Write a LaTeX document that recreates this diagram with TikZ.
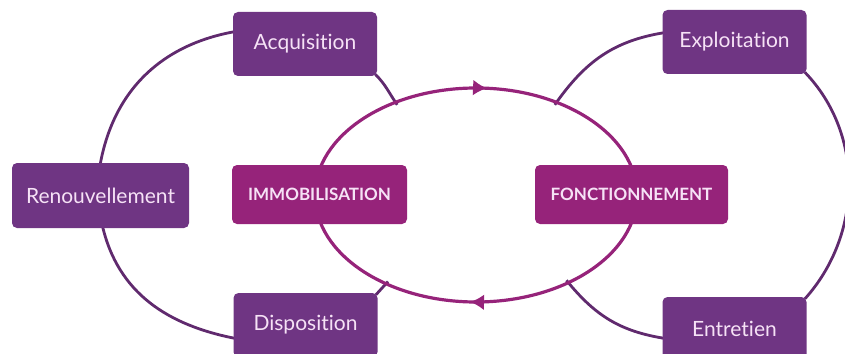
\documentclass[tikz,border=0pt]{standalone}
\usepackage{fontspec}
\setmainfont[Ligatures=NoCommon]{Lato}
\usetikzlibrary{arrows.meta,decorations.markings,backgrounds}
\definecolor{cyclepurple}{RGB}{111,53,131}
\definecolor{cyclemagenta}{RGB}{150,35,122}
\definecolor{cycleline}{RGB}{96,42,110}
\definecolor{cycletext}{RGB}{246,226,246}

\begin{document}
\begin{tikzpicture}[
    x=0.5pt, y=-0.5pt,
    phase/.style={rectangle, fill=cyclepurple, text=cycletext, rounded corners=2.5pt, minimum width=72pt, minimum height=32pt, font=\fontsize{10.5}{12}\selectfont},
    core/.style={rectangle, fill=cyclemagenta, text=cycletext, rounded corners=2.5pt, minimum height=29.5pt, font=\bfseries\fontsize{8.5}{10}\selectfont},
    ring/.style={draw=cycleline, line width=1.4pt, shorten <=-1.5pt, shorten >=-1.5pt},
    flow/.style={draw=cyclemagenta, line width=1.6pt, postaction={decorate},
        decoration={markings,
            mark=at position 0.257 with {\arrow{Latex[length=7pt,width=8pt]}},
            mark=at position 0.763 with {\arrow{Latex[length=7pt,width=8pt]}}}}
]
\useasboundingbox (0,0) rectangle (845,353);

% Central cycle
\coordinate (centre) at (476,195);
\path[flow] (centre) ellipse [x radius=161, y radius=107];
\path (centre) ++(240:161 and 107) coordinate (eNW);
\path (centre) ++(300:161 and 107) coordinate (eNE);
\path (centre) ++(124:161 and 107) coordinate (eSW);
\path (centre) ++(55:161 and 107) coordinate (eSE);

% Row 1: top phases
\node[phase] (acq) at (305,44) {Acquisition};
\node[phase] (expl) at (734.5,42) {Exploitation};

% Row 2: middle
\node[phase, minimum width=88.5pt, minimum height=32.5pt] (renouv) at (100.5,195.5) {Renouvellement};
\node[core, minimum width=87.5pt] (immo) at (319.5,194.5) {IMMOBILISATION};
\node[core, minimum width=96.5pt] (fonct) at (631.5,194.5) {FONCTIONNEMENT};

% Row 3: bottom phases
\node[phase] (disp) at (305.5,325) {Disposition};
\node[phase] (entr) at (734.5,329) {Entretien};

% Connections
\begin{scope}[on background layer]
% left loop
\draw[ring] ([yshift=6pt]acq.west) to[out=190, in=80] (renouv.north);
\draw[ring] ([xshift=1.25pt]renouv.south) to[out=283, in=169] ([yshift=-6.5pt]disp.west);
\draw[ring] (acq.south east) to[out=-45, in=125] (eNW);
\draw[ring] (disp.north east) -- (eSW);
% right loop
\draw[ring] ([yshift=4.5pt]expl.west) to[out=189, in=55] (eNE);
\draw[ring] (expl.south east) to[out=-46, in=48, looseness=0.96] (entr.north east);
\draw[ring] ([yshift=-4.5pt]entr.west) to[out=171, in=-51] (eSE);
\end{scope}

\end{tikzpicture}
\end{document}
